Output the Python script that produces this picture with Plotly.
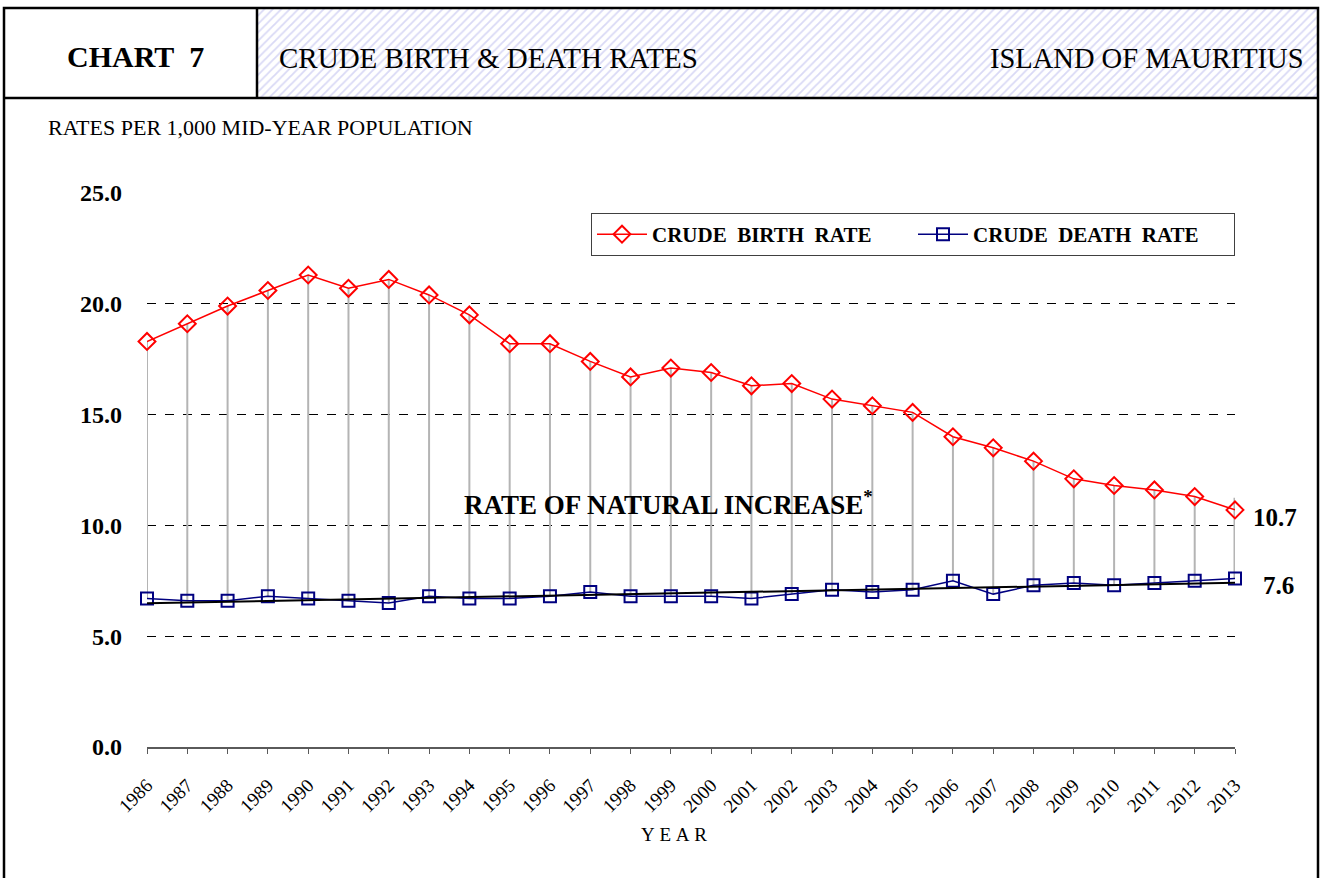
import numpy as np
import plotly.graph_objects as go

# ---------------- data ----------------
years = list(range(1986, 2014))
birth_rate = [18.3, 19.1, 19.9, 20.6, 21.3, 20.7, 21.1, 20.4, 19.5, 18.2,
              18.2, 17.4, 16.7, 17.1, 16.9, 16.3, 16.4, 15.7, 15.4, 15.1,
              14.0, 13.5, 12.9, 12.1, 11.8, 11.6, 11.3, 10.7]
death_rate = [6.7, 6.6, 6.6, 6.8, 6.7, 6.6, 6.5, 6.8, 6.7, 6.7,
              6.8, 7.0, 6.8, 6.8, 6.8, 6.7, 6.9, 7.1, 7.0, 7.1,
              7.5, 6.9, 7.3, 7.4, 7.3, 7.4, 7.5, 7.6]
last_hl_top = 11.25  # top of the (taller) final high-low line
y_ticks = [0, 5, 10, 15, 20, 25]

FONT = "Liberation Serif, Times New Roman, serif"
W, H = 1324, 878

def px_x(v):
    return v / W

def px_y(v):
    return 1 - v / H

fig = go.Figure()

# high-low lines (birth -> death)
hx, hy = [], []
for yr, b, d in zip(years[:-1], birth_rate[:-1], death_rate[:-1]):
    hx += [yr, yr, None]
    hy += [b, d, None]
fig.add_trace(go.Scatter(x=hx, y=hy, mode="lines", cliponaxis=False,
                         line=dict(color="#b4b4b4", width=2),
                         showlegend=False, hoverinfo="skip"))
fig.add_trace(go.Scatter(x=[years[-1], years[-1]], y=[last_hl_top, death_rate[-1]],
                         mode="lines", cliponaxis=False, line=dict(color="#b4b4b4", width=3),
                         showlegend=False, hoverinfo="skip"))

# linear trend of death rate
coef = np.polyfit(years, death_rate, 1)
trend = np.polyval(coef, years)

fig.add_trace(go.Scatter(
    x=years, y=death_rate, mode="lines+markers", cliponaxis=False,
    name="CRUDE\u00a0\u00a0DEATH\u00a0\u00a0RATE",
    line=dict(color="#000080", width=1.5),
    marker=dict(symbol="square-open", size=12, color="#000080", line=dict(width=2, color="#000080")),
))
fig.add_trace(go.Scatter(
    x=years, y=list(trend), mode="lines", cliponaxis=False, line=dict(color="black", width=2),
    showlegend=False, hoverinfo="skip"))
fig.add_trace(go.Scatter(
    x=years, y=birth_rate, mode="lines+markers", cliponaxis=False,
    name="CRUDE\u00a0\u00a0BIRTH\u00a0\u00a0RATE",
    line=dict(color="#ff0000", width=1.5),
    marker=dict(symbol="diamond-open", size=13, color="#ff0000", line=dict(width=2, color="#ff0000")),
))

# hatched header background (pattern fill)
fig.add_trace(go.Scatter(
    x=[0, 1, 1, 0, 0], y=[0, 0, 1, 1, 0], xaxis="x2", yaxis="y2",
    mode="lines", fill="toself", line=dict(width=0, color="rgba(0,0,0,0)"),
    fillcolor="white",
    fillpattern=dict(shape="/", fgcolor="#b3b3ec", bgcolor="white", size=6, solidity=0.3),
    showlegend=False, hoverinfo="skip"))

x0, x1 = px_x(147), px_x(1235)
y0, y1 = px_y(747), px_y(193)

fig.update_layout(
    width=W, height=H, autosize=False,
    margin=dict(l=0, r=0, t=0, b=0, pad=0),
    paper_bgcolor="white", plot_bgcolor="white",
    font=dict(family=FONT, color="black"),
    xaxis=dict(domain=[x0, x1], range=[1986, 2013], tickmode="array",
               tickvals=years, ticktext=[str(y) for y in years], tickangle=-45,
               tickfont=dict(size=19, family=FONT, color="black"),
               showgrid=False, zeroline=False, showline=True, linecolor="#5a5a5a",
               linewidth=1.5, ticks="outside", ticklen=5, tickcolor="#5a5a5a",
               ticklabelstandoff=13, automargin=False),
    yaxis=dict(domain=[y0, y1], range=[0, 25], tickvals=y_ticks, tickformat=".1f",
               tickfont=dict(size=24, family=FONT, color="black", weight="bold"),
               showgrid=True, gridcolor="black", griddash="dash", gridwidth=1,
               zeroline=False, showline=False, ticks="", ticklabelstandoff=24,
               automargin=False),
    xaxis2=dict(domain=[px_x(257), px_x(1318)], range=[0, 1], visible=False,
                fixedrange=True, automargin=False),
    yaxis2=dict(domain=[px_y(98), px_y(8)], range=[0, 1], visible=False,
                fixedrange=True, automargin=False),
    legend=dict(orientation="h", x=x1, xanchor="right", y=px_y(213), yanchor="top",
                bgcolor="white", bordercolor="#404040", borderwidth=1,
                font=dict(size=21, family=FONT, color="black", weight="bold"),
                itemwidth=50, entrywidth=256, entrywidthmode="pixels",
                traceorder="reversed", tracegroupgap=0),
    showlegend=True,
)

# frame shapes
line_k = dict(color="black", width=2.5)
fig.add_shape(type="rect", xref="paper", yref="paper", x0=px_x(4), x1=px_x(1318),
              y0=-0.02, y1=px_y(8), line=line_k, layer="above")
fig.add_shape(type="line", xref="paper", yref="paper", x0=px_x(4), x1=px_x(1318),
              y0=px_y(98), y1=px_y(98), line=line_k, layer="above")
fig.add_shape(type="line", xref="paper", yref="paper", x0=px_x(257), x1=px_x(257),
              y0=px_y(98), y1=px_y(8), line=line_k, layer="above")

def ann(text, x, y, size, bold=False, xanchor="center", yanchor="middle", **kw):
    fig.add_annotation(text=text, x=x, y=y, xref="paper", yref="paper", showarrow=False,
                       xanchor=xanchor, yanchor=yanchor,
                       font=dict(size=size, family=FONT, color="black",
                                 weight="bold" if bold else "normal"), **kw)

ann("CHART\u00a0\u00a07", px_x(135), px_y(57), 30, bold=True)
ann("CRUDE BIRTH &amp; DEATH RATES", px_x(277), px_y(58), 29, xanchor="left")
ann("ISLAND OF MAURITIUS", px_x(1306), px_y(58), 28.5, xanchor="right")
ann("RATES PER 1,000 MID-YEAR POPULATION", px_x(46), px_y(128), 22, xanchor="left")
ann("Y\u00a0E\u00a0A\u00a0R", px_x(674), px_y(834), 19)
ann("RATE OF NATURAL INCREASE<sup>*</sup>", px_x(668), px_y(503), 27, bold=True)
ann("10.7", px_x(1251), px_y(517), 25, bold=True, xanchor="left")
ann("7.6", px_x(1261), px_y(585), 25, bold=True, xanchor="left")

fig.write_html("out.html", config={"displayModeBar": False},
               post_script="document.body.style.margin='0px';document.body.style.padding='0px';")
